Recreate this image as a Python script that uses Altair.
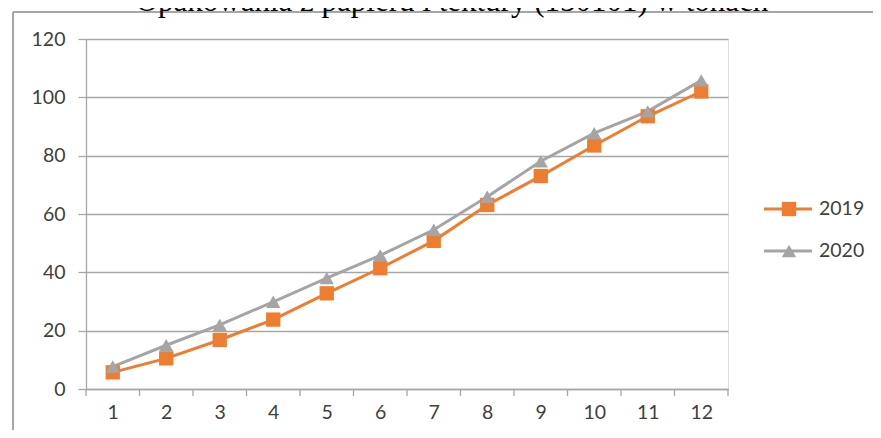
import altair as alt
import pandas as pd

months = list(range(1, 13))
v2019 = [5.7, 10.5, 16.8, 23.8, 32.8, 41.4, 50.8, 63.1, 73.0, 83.5, 93.5, 102.0]
v2020 = [7.7, 15.0, 22.0, 29.9, 38.0, 45.8, 54.6, 65.9, 78.1, 87.7, 95.2, 105.8]
series = ["2019", "2020"]
colors = ["#ED7D31", "#A5A5A5"]
shapes = ["square", "triangle-up"]
y_ticks = [0, 20, 40, 60, 80, 100, 120]
boundaries = [m - 0.5 for m in months] + [12.5]
title_text = "Opakowania z papieru i tektury (150101) w tonach"

rows = []
for m, a, b in zip(months, v2019, v2020):
    rows.append({"month": m, "value": a, "series": "2019"})
    rows.append({"month": m, "value": b, "series": "2020"})
df = pd.DataFrame(rows)

W, H = 642, 350
GRID = "#A6A6A6"
TXT = "#404040"
FONT = "Lato"
FS = 19.5

xscale = alt.Scale(domain=[0.5, 12.5], nice=False, zero=False)
yscale = alt.Scale(domain=[0, 120], nice=False)
cscale = alt.Scale(domain=series, range=colors)
sscale = alt.Scale(domain=series, range=shapes)

base = alt.Chart(df)

lines = base.mark_line(strokeWidth=3).encode(
    x=alt.X("month:Q", scale=xscale,
            axis=alt.Axis(values=months, format="d", ticks=False, grid=False, title=None,
                          domainColor=GRID, domainWidth=1.3, labelFontSize=FS,
                          labelFont=FONT, labelColor=TXT, labelPadding=14)),
    y=alt.Y("value:Q", scale=yscale,
            axis=alt.Axis(values=y_ticks, grid=True, gridColor=GRID, gridWidth=1.3,
                          tickColor=GRID, tickSize=8, tickWidth=1.3,
                          domainColor=GRID, domainWidth=1.3, title=None,
                          labelFontSize=FS, labelFont=FONT, labelColor=TXT,
                          labelPadding=13)),
    color=alt.Color("series:N", scale=cscale, legend=None),
    detail="series:N",
)

points = base.mark_point(filled=True, size=205, opacity=1).encode(
    x=alt.X("month:Q", scale=xscale),
    y=alt.Y("value:Q", scale=yscale),
    color=alt.Color("series:N", scale=cscale, legend=None),
    shape=alt.Shape("series:N", scale=sscale, legend=None),
)

tick_df = pd.DataFrame({"b": boundaries})
xticks = alt.Chart(tick_df).mark_rule(color=GRID, strokeWidth=1.3).encode(
    x=alt.X("b:Q", scale=xscale),
    y=alt.value(H), y2=alt.value(H + 7),
)

main = alt.layer(xticks, lines, points)

# chart-area frame (top and left borders)
frame_top = alt.Chart(tick_df).mark_rule(color=GRID, strokeWidth=1.5).encode(
    x=alt.value(-73), x2=alt.value(W + 160), y=alt.value(-27))
frame_left = alt.Chart(tick_df).mark_rule(color=GRID, strokeWidth=1.5).encode(
    x=alt.value(-73), y=alt.value(-27), y2=alt.value(H + 60))

title = alt.Chart(pd.DataFrame({"t": [title_text]})).mark_text(
    fontSize=31, font="Liberation Serif", color="#000000", align="center",
    baseline="alphabetic").encode(
    text="t:N", x=alt.value(366), y=alt.value(-28))

leg_df = pd.DataFrame({"series": series, "idx": [0, 1]})
leg_y = alt.Y("idx:Q", scale=alt.Scale(domain=[0, 1], range=[170, 212]), axis=None)
leg_line = alt.Chart(leg_df).mark_rule(strokeWidth=3).encode(
    x=alt.value(678), x2=alt.value(726), y=leg_y,
    color=alt.Color("series:N", scale=cscale, legend=None))
leg_pt = alt.Chart(leg_df).mark_point(filled=True, size=205, opacity=1).encode(
    x=alt.value(703), y=leg_y,
    color=alt.Color("series:N", scale=cscale, legend=None),
    shape=alt.Shape("series:N", scale=sscale, legend=None))
leg_txt = alt.Chart(leg_df).mark_text(
    align="left", baseline="middle", fontSize=FS, font=FONT, color=TXT).encode(
    x=alt.value(733), y=leg_y, text="series:N")

legend = alt.layer(leg_line, leg_pt, leg_txt)

chart = alt.layer(
    frame_top, frame_left, main, title, legend
).resolve_scale(y="independent").properties(
    width=W, height=H,
    autosize=alt.AutoSizeParams(type="none"),
    padding={"left": 78, "top": 31, "right": 145, "bottom": 41},
).configure_view(stroke=None).configure(background="white")

chart.save("out.html", embed_options={"renderer": "svg", "actions": False})
